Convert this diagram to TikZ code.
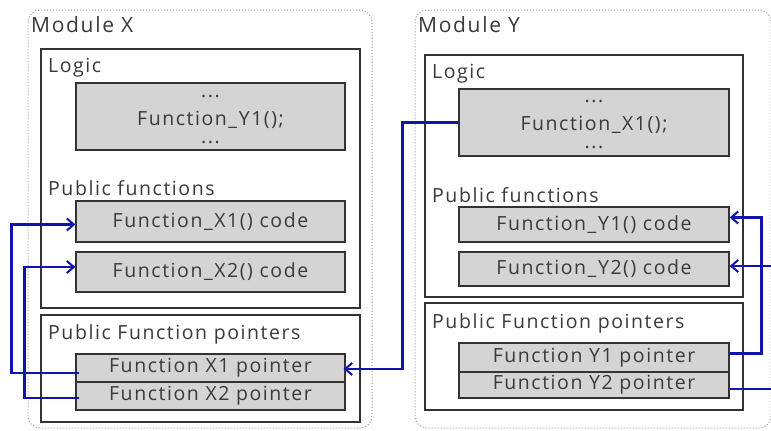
\documentclass[tikz,border=0pt]{standalone}
\usepackage{fontspec}
\setmainfont{Open Sans}[LetterSpace=8]
\usetikzlibrary{arrows.meta,calc}
\definecolor{txt}{HTML}{3A3A3A}
\definecolor{boxline}{HTML}{333333}
\definecolor{gfill}{HTML}{D4D4D4}
\definecolor{lnk}{RGB}{18,18,172}
\tikzset{
  module/.style={draw=gray!80, dotted, line width=1pt, rounded corners=12pt, minimum width=#1, inner sep=0pt},
  section/.style={draw=boxline, line width=1.3pt, fill=white, inner sep=0pt},
  gbox/.style={draw=boxline, line width=1.3pt, fill=gfill, inner sep=0pt, text=txt, font=\fontsize{19.5}{21}\selectfont, align=center},
  lbl/.style={anchor=west, inner sep=0pt, text=txt, font=\fontsize{19.5}{21}\selectfont},
  modlbl/.style={lbl, font=\fontsize{21}{23}\selectfont},
  txtc/.style={anchor=base, inner sep=0pt, text=txt, font=\fontsize{19.5}{21}\selectfont},
  link/.style={draw=lnk, line width=2.6pt},
  tip/.style={-{Straight Barb[length=7pt,width=12pt,line width=2pt]}}
}
\begin{document}
\begin{tikzpicture}[x=1pt,y=-1pt]
\useasboundingbox (0,0) rectangle (771,431);
\clip (0,0) rectangle (771,431);
\fill[white] (0,0) rectangle (771,431);
% Module X
\node[module=344pt, minimum height=418pt] (modX) at (200,219) {};
\node[modlbl] (modXl) at (31,25) {Module X};
\node[section, minimum width=319pt, minimum height=259pt] (logX) at (200.5,178.5) {};
\node[lbl] (logXl) at (48,68) {Logic};
\node[gbox, minimum width=269pt, minimum height=67pt] (codeX) at (210.5,116.5) {};
\node[txtc] (codeXa) at (210.5,97) {...};
\node[txtc] (codeXb) at (210.5,125) {Function\_Y1();};
\node[txtc] (codeXc) at (210.5,143) {...};
\node[lbl] (pubXl) at (48,188) {Public functions};
\node[gbox, minimum width=269pt, minimum height=41pt] (X1code) at (210.5,221.5) {Function\_X1() code};
\node[gbox, minimum width=269pt, minimum height=40pt] (X2code) at (210.5,272) {Function\_X2() code};
\node[section, minimum width=319pt, minimum height=107pt] (ptrX) at (200.5,368.5) {};
\node[lbl] (ptrXl) at (48,334) {Public Function pointers};
\node[gbox, minimum width=269pt, minimum height=28pt] (ptrX1) at (210.5,368) {Function X1 pointer};
\node[gbox, minimum width=269pt, minimum height=28pt] (ptrX2) at (210.5,396) {Function X2 pointer};
% Module Y
\node[module=356pt, minimum height=418pt] (modY) at (593,219) {};
\node[modlbl] (modYl) at (418,25) {Module Y};
\node[section, minimum width=318pt, minimum height=242pt] (logY) at (584,176) {};
\node[lbl] (logYl) at (432,74) {Logic};
\node[gbox, minimum width=270pt, minimum height=67pt] (codeY) at (594,122.5) {};
\node[txtc] (codeYa) at (594,102) {...};
\node[txtc] (codeYb) at (594,130) {Function\_X1();};
\node[txtc] (codeYc) at (594,148) {...};
\node[lbl] (pubYl) at (432,195) {Public functions};
\node[gbox, minimum width=270pt, minimum height=35pt] (Y1code) at (594,224.5) {Function\_Y1() code};
\node[gbox, minimum width=270pt, minimum height=34pt] (Y2code) at (594,269) {Function\_Y2() code};
\node[section, minimum width=318pt, minimum height=107pt] (ptrY) at (584,356.5) {};
\node[lbl] (ptrYl) at (432,323) {Public Function pointers};
\node[gbox, minimum width=270pt, minimum height=29pt] (ptrY1) at (594,357.5) {Function Y1 pointer};
\node[gbox, minimum width=270pt, minimum height=26pt] (ptrY2) at (594,385) {Function Y2 pointer};
% links
\draw[link, tip] ($(ptrX1.west)+(4,5)$) -- ++(-68,0) |- ($(X1code.west)+(0,3)$);
\draw[link, tip] ($(ptrX2.west)+(4,2)$) -- ++(-55,0) |- ($(X2code.west)+(0,-5)$);
\draw[link, tip] (codeY.west) -- ++(-56,0) |- ($(ptrX1.east)+(-2,1)$);
\draw[link, tip] ($(ptrY1.east)+(0,-4)$) -- ++(32,0) |- ($(Y1code.east)+(0,-7)$);
\draw[link, tip] ($(ptrY2.east)+(0,4)$) -- ++(60,0) |- ($(Y2code.east)+(0,-3)$);
\end{tikzpicture}
\end{document}
